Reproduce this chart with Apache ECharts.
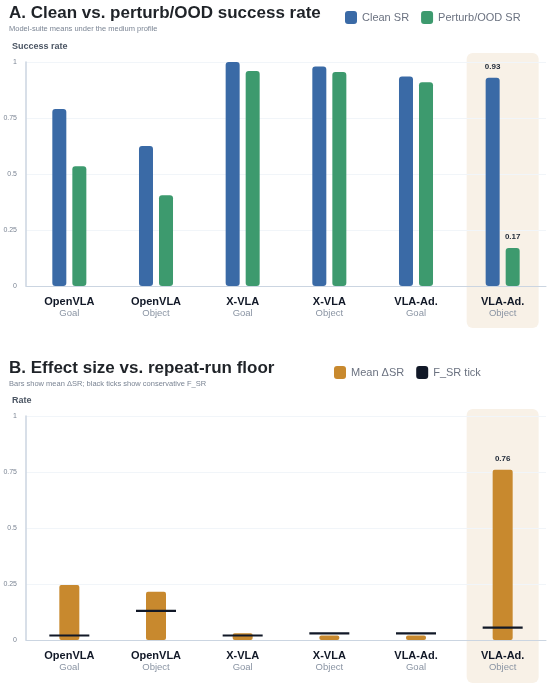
<!DOCTYPE html>
<html lang="en">
<head>
    <meta charset="UTF-8">
    <title>Clean vs. perturb/OOD success rate</title>
    <style>
        html, body { margin: 0; padding: 0; background: #fff; }
        #chart { width: 550px; height: 689px; }
    </style>
</head>
<body>
    <div id="chart"></div>
    <script src="https://cdn.jsdelivr.net/npm/echarts@6/dist/echarts.min.js"></script>
    <script type="text/javascript">
        // model / suite labels
        var models = ['OpenVLA', 'OpenVLA', 'X-VLA', 'X-VLA', 'VLA-Ad.', 'VLA-Ad.'];
        var suites = ['Goal', 'Object', 'Goal', 'Object', 'Goal', 'Object'];
        // panel A
        var cleanSR = [0.79, 0.625, 1.0, 0.98, 0.935, 0.93];
        var perturbSR = [0.535, 0.405, 0.96, 0.955, 0.91, 0.17];
        // panel B
        var meanDeltaSR = [0.245, 0.215, 0.03, 0.02, 0.02, 0.76];
        var floorSR = [0.02, 0.13, 0.02, 0.03, 0.03, 0.055];
        var highlight = 5;

        var FONT = '"Liberation Sans", Arial, sans-serif';
        var categories = models.map(function (m, i) { return m + '\n' + suites[i]; });

        function labelLast(values) {
            return values.map(function (v, i) {
                if (i !== highlight) return v;
                return {
                    value: v,
                    label: {
                        show: true, position: 'top', distance: 7,
                        formatter: function (p) { return p.value.toFixed(2); },
                        fontFamily: FONT, fontSize: 8, fontWeight: 'bold', color: '#1f2937'
                    }
                };
            });
        }

        function xAxis(idx) {
            return {
                type: 'category',
                gridIndex: idx,
                data: categories,
                axisLine: { lineStyle: { color: '#cbd5e1', width: 1 } },
                axisTick: { show: false },
                axisLabel: {
                    interval: 0,
                    margin: 10,
                    formatter: function (v) {
                        var p = v.split('\n');
                        return '{m|' + p[0] + '}\n{s|' + p[1] + '}';
                    },
                    rich: {
                        m: { fontFamily: FONT, fontSize: 11, fontWeight: 'bold', color: '#111827', lineHeight: 12 },
                        s: { fontFamily: FONT, fontSize: 9.5, color: '#8a94a3', lineHeight: 11 }
                    }
                }
            };
        }

        function yAxis(idx, name) {
            return {
                type: 'value',
                gridIndex: idx,
                min: 0, max: 1, interval: 0.25,
                name: name,
                nameLocation: 'end',
                nameGap: 11,
                nameTextStyle: {
                    fontFamily: FONT, fontSize: 9, fontWeight: 'bold', color: '#4b5563',
                    align: 'left', padding: [0, 0, 0, -14]
                },
                axisLine: { show: true, lineStyle: { color: '#cbd5e1', width: 1.5 } },
                axisTick: { show: false },
                axisLabel: { fontFamily: FONT, fontSize: 7, color: '#7b8594', margin: 9 },
                splitLine: { lineStyle: { color: '#f1f5f9', width: 1 } }
            };
        }

        var chart = echarts.init(document.getElementById('chart'));

        chart.setOption({
            backgroundColor: '#ffffff',
            animation: false,
            title: [{
                text: 'A. Clean vs. perturb/OOD success rate',
                subtext: 'Model-suite means under the medium profile',
                left: 4, top: 0, itemGap: 3,
                textStyle: { fontFamily: FONT, fontSize: 17, fontWeight: 'bold', color: '#1f2328' },
                subtextStyle: { fontFamily: FONT, fontSize: 7.5, color: '#7b8594' }
            }, {
                text: 'B. Effect size vs. repeat-run floor',
                subtext: 'Bars show mean \u0394SR; black ticks show conservative F_SR',
                left: 4, top: 355, itemGap: 3,
                textStyle: { fontFamily: FONT, fontSize: 17, fontWeight: 'bold', color: '#1f2328' },
                subtextStyle: { fontFamily: FONT, fontSize: 7.5, color: '#7b8594' }
            }],
            legend: [{
                data: ['Clean SR', 'Perturb/OOD SR'],
                left: 340, top: 6,
                icon: 'roundRect', itemWidth: 12, itemHeight: 13, itemGap: 12,
                textStyle: { fontFamily: FONT, fontSize: 11, color: '#6b7280' }
            }, {
                data: ['Mean \u0394SR', 'F_SR tick'],
                left: 329, top: 361,
                icon: 'roundRect', itemWidth: 12, itemHeight: 13, itemGap: 12,
                textStyle: { fontFamily: FONT, fontSize: 11, color: '#6b7280' }
            }],
            grid: [
                { left: 26, right: 4, top: 62, height: 224 },
                { left: 26, right: 4, top: 416, height: 224 }
            ],
            xAxis: [xAxis(0), xAxis(1)],
            yAxis: [yAxis(0, 'Success rate'), yAxis(1, 'Rate')],
            series: [{
                name: 'Clean SR',
                type: 'bar',
                xAxisIndex: 0, yAxisIndex: 0,
                barWidth: 14, barGap: '43%',
                itemStyle: { color: '#3a6aa6', borderRadius: 3 },
                data: labelLast(cleanSR)
            }, {
                name: 'Perturb/OOD SR',
                type: 'bar',
                xAxisIndex: 0, yAxisIndex: 0,
                barWidth: 14, barGap: '43%',
                itemStyle: { color: '#3d9a6e', borderRadius: 3 },
                data: labelLast(perturbSR)
            }, {
                name: 'Mean \u0394SR',
                type: 'bar',
                xAxisIndex: 1, yAxisIndex: 1,
                barWidth: 20,
                itemStyle: { color: '#c8892e', borderRadius: 2 },
                data: labelLast(meanDeltaSR)
            }, {
                name: 'F_SR tick',
                type: 'scatter',
                xAxisIndex: 1, yAxisIndex: 1,
                symbol: 'rect',
                symbolSize: [40, 2.2],
                z: 5,
                itemStyle: { color: '#111827', opacity: 1 },
                data: floorSR
            }]
        });

        // highlighted column band behind the last category
        var cA = chart.convertToPixel({ xAxisIndex: 0 }, categories[highlight]);
        var cB = chart.convertToPixel({ xAxisIndex: 1 }, categories[highlight]);
        chart.setOption({
            graphic: [{
                type: 'rect', z: -10, silent: true,
                shape: { x: cA - 36, y: 53, width: 72, height: 275, r: 6 },
                style: { fill: '#f8f1e7' }
            }, {
                type: 'rect', z: -10, silent: true,
                shape: { x: cB - 36, y: 409, width: 72, height: 274, r: 6 },
                style: { fill: '#f8f1e7' }
            }]
        });
    </script>
</body>
</html>
